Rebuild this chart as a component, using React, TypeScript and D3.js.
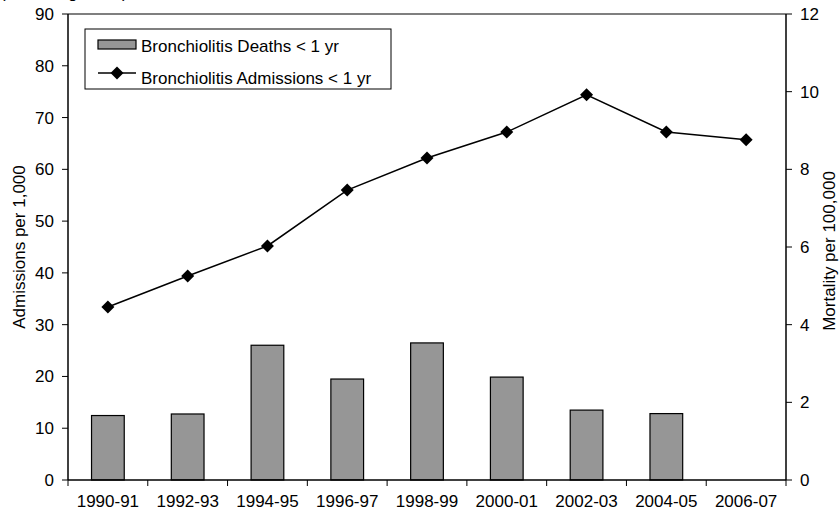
import React from "react";
import * as d3 from "d3";

const categories = ["1990-91","1992-93","1994-95","1996-97","1998-99","2000-01","2002-03","2004-05","2006-07"];
const deaths: (number | null)[] = [1.66, 1.70, 3.47, 2.60, 3.53, 2.65, 1.80, 1.71, null];
const admissions = [33.4, 39.4, 45.2, 56.0, 62.2, 67.2, 74.4, 67.2, 65.7];
const leftTicks = [0,10,20,30,40,50,60,70,80,90];
const rightTicks = [0,2,4,6,8,10,12];

const W = 839, H = 511;
const L = 68, R = 786, T = 14, B = 480;
const FONT = "Arial, 'Liberation Sans', sans-serif";
const FS = 17;

export default function App() {
  const x = d3.scaleBand<string>().domain(categories).range([L, R]).paddingInner(0).paddingOuter(0);
  const yL = d3.scaleLinear().domain([0, 90]).range([B, T]);
  const yR = d3.scaleLinear().domain([0, 12]).range([B, T]);
  const bw = x.bandwidth() * 0.41;
  const line = d3.line<number>().x((_, i) => x(categories[i])! + x.bandwidth() / 2).y(d => yL(d));
  const diamond = (cx: number, cy: number, r = 6.5) => `M${cx},${cy - r}L${cx + r},${cy}L${cx},${cy + r}L${cx - r},${cy}Z`;
  const boundaries = categories.map(c => x(c)!).concat([R]);

  return (
    <svg width={W} height={H} style={{ position: "absolute", left: 0, top: 0, display: "block" }} fontFamily={FONT}>
      <rect width={W} height={H} fill="#fff" />
      <text x={0} y={-2.5} fontSize={FS} fill="#000">(excluding SIDS)</text>
      {/* bars */}
      {deaths.map((v, i) => v == null ? null : (
        <rect key={i} x={x(categories[i])! + x.bandwidth() / 2 - bw / 2} y={yR(v)} width={bw} height={B - yR(v)}
          fill="#969696" stroke="#000" strokeWidth={1.2} />
      ))}
      {/* frame */}
      <line x1={L} x2={R} y1={T} y2={T} stroke="#000" strokeWidth={1.2} />
      <line x1={L} x2={L} y1={T} y2={B} stroke="#000" strokeWidth={1.5} />
      <line x1={R} x2={R} y1={T} y2={B} stroke="#000" strokeWidth={1.5} />
      <line x1={L} x2={R} y1={B} y2={B} stroke="#000" strokeWidth={1.5} />
      {/* line */}
      <path d={line(admissions) || ""} fill="none" stroke="#000" strokeWidth={1.5} />
      {admissions.map((v, i) => (
        <path key={i} d={diamond(x(categories[i])! + x.bandwidth() / 2, yL(v))} fill="#000" />
      ))}
      {/* left axis */}
      {leftTicks.map(t => (
        <g key={t}>
          <line x1={L - 6} x2={L} y1={yL(t)} y2={yL(t)} stroke="#000" strokeWidth={1} />
          <text x={L - 14} y={yL(t)} dy="0.35em" textAnchor="end" fontSize={FS}>{t}</text>
        </g>
      ))}
      {/* right axis */}
      {rightTicks.map(t => (
        <g key={t}>
          <line x1={R} x2={R + 6} y1={yR(t)} y2={yR(t)} stroke="#000" strokeWidth={1} />
          <text x={R + 14} y={yR(t)} dy="0.35em" textAnchor="start" fontSize={FS}>{t}</text>
        </g>
      ))}
      {/* x axis */}
      {boundaries.map((bx, i) => (
        <line key={i} x1={bx} x2={bx} y1={B} y2={B + 6} stroke="#000" strokeWidth={1} />
      ))}
      {categories.map(c => (
        <text key={c} x={x(c)! + x.bandwidth() / 2} y={B + 27} textAnchor="middle" fontSize={FS}>{c}</text>
      ))}
      {/* axis titles */}
      <text transform={`translate(25,247) rotate(-90)`} textAnchor="middle" fontSize={FS}>Admissions per 1,000</text>
      <text transform={`translate(835,251) rotate(-90)`} textAnchor="middle" fontSize={FS}>Mortality per 100,000</text>
      {/* legend */}
      <rect x={85} y={29} width={306} height={60} fill="#fff" stroke="#000" strokeWidth={1} />
      <rect x={98} y={40} width={38} height={9} fill="#969696" stroke="#000" strokeWidth={1.2} />
      <text x={141} y={52} fontSize={FS}>Bronchiolitis Deaths &lt; 1 yr</text>
      <line x1={98} x2={136} y1={73} y2={73} stroke="#000" strokeWidth={1.5} />
      <path d={diamond(117, 73)} fill="#000" />
      <text x={141} y={84} fontSize={FS}>Bronchiolitis Admissions &lt; 1 yr</text>
    </svg>
  );
}
